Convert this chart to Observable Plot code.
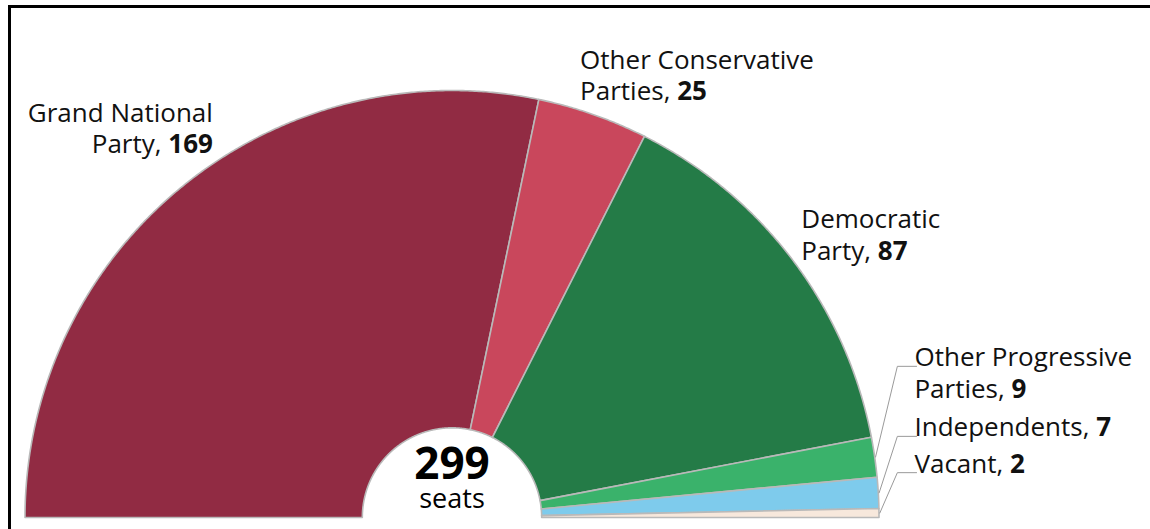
<!DOCTYPE html>
<html>
<head>
<meta charset="utf-8">
<script src="https://cdn.jsdelivr.net/npm/d3@7"></script>
<script src="https://cdn.jsdelivr.net/npm/@observablehq/plot@0.6"></script>
<style>
  html, body { margin: 0; padding: 0; background: #fff; }
  #wrap { position: relative; width: 1150px; height: 529px; overflow: hidden; }
  #frame { position: absolute; left: 8px; top: 5px; width: 1200px; height: 600px;
           border-top: 3px solid #000; border-left: 3px solid #000; pointer-events: none; }
  #chart { position: absolute; left: 0; top: 0; }
</style>
</head>
<body>
<div id="wrap"><div id="chart"></div><div id="frame"></div></div>
<script>
// ---- data ----
const parties = ["Grand National Party", "Other Conservative Parties", "Democratic Party",
                 "Other Progressive Parties", "Independents", "Vacant"];
const seats = [169, 25, 87, 9, 7, 2];
const colors = ["#912b43", "#c9475c", "#247b47", "#3ab26b", "#7ecbec", "#f7e8dc"];
const labelLines = [
  ["Grand National", "Party, 169"],
  ["Other Conservative", "Parties, 25"],
  ["Democratic", "Party, 87"],
  ["Other Progressive", "Parties, 9"],
  ["Independents, 7"],
  ["Vacant, 2"]
];
const centerTotal = "299";
const centerUnit = "seats";

// ---- layout (label anchors in chart units: radius 1 = outer edge; y = first-line baseline) ----
const innerR = 0.21;
const fontSize = 26;
const lineHeight = 1.2;
const lineUnit = fontSize * lineHeight / 427;
const labelLayout = [
  {x: -0.56, y: 0.927, anchor: "end"},
  {x: 0.30, y: 1.051, anchor: "start"},
  {x: 0.818, y: 0.677, anchor: "start"},
  {x: 1.083, y: 0.354, anchor: "start", leader: true},
  {x: 1.083, y: 0.190, anchor: "start", leader: true},
  {x: 1.083, y: 0.105, anchor: "start", leader: true}
];
const kneeX = 1.043;

// ---- geometry derived from data ----
const total = d3.sum(seats);
const cum = d3.cumsum(seats);
const theta = c => Math.PI * (1 - c / total);
const polys = [];
seats.forEach((s, i) => {
  const c0 = i === 0 ? 0 : cum[i - 1], c1 = cum[i];
  const n = Math.max(4, Math.ceil(s * 2));
  for (let k = 0; k <= n; k++) {
    const t = theta(c0 + (c1 - c0) * k / n);
    polys.push({party: parties[i], x: Math.cos(t), y: Math.sin(t)});
  }
  for (let k = n; k >= 0; k--) {
    const t = theta(c0 + (c1 - c0) * k / n);
    polys.push({party: parties[i], x: innerR * Math.cos(t), y: innerR * Math.sin(t)});
  }
});

const labels = parties.map((p, i) => ({
  party: p,
  text: labelLines[i].join("\n"),
  x: labelLayout[i].x,
  y: labelLayout[i].y - (labelLines[i].length - 1) * lineUnit,
  anchor: labelLayout[i].anchor
}));
const leaders = [];
parties.forEach((p, i) => {
  if (!labelLayout[i].leader) return;
  const tm = theta(cum[i] - seats[i] / 2);
  const L = labelLayout[i];
  leaders.push({party: p, x: L.x + 0.005, y: L.y});
  leaders.push({party: p, x: kneeX, y: L.y});
  leaders.push({party: p, x: Math.cos(tm) * 1.002, y: Math.sin(tm) * 1.002});
});

const plot = Plot.plot({
  width: 1150,
  height: 529,
  marginLeft: 24.5,
  marginRight: 271.5,
  marginTop: 90,
  marginBottom: 12,
  x: {domain: [-1, 1], axis: null},
  y: {domain: [0, 1], axis: null},
  color: {domain: parties, range: colors},
  style: {fontFamily: "'Open Sans', sans-serif", background: "transparent", overflow: "visible"},
  marks: [
    Plot.line(polys, {x: "x", y: "y", z: "party", fill: "party", stroke: "#b9b9b9",
                      strokeWidth: 1.6, curve: "linear-closed"}),
    Plot.line(leaders, {x: "x", y: "y", z: "party", stroke: "#9a9a9a", strokeWidth: 1}),
    Plot.text(labels.filter(d => d.anchor === "end"), {x: "x", y: "y", text: "text",
      textAnchor: "end", lineAnchor: "bottom", lineHeight, fontSize, fill: "#111", className: "lbl"}),
    Plot.text(labels.filter(d => d.anchor === "start"), {x: "x", y: "y", text: "text",
      textAnchor: "start", lineAnchor: "bottom", lineHeight, fontSize, fill: "#111", className: "lbl"}),
    Plot.text([centerTotal], {x: 0, y: 0.09, text: d => d, fontSize: 44, fontWeight: 700,
      lineAnchor: "bottom", fill: "#000", letterSpacing: -2}),
    Plot.text([centerUnit], {x: 0, y: 0.022, text: d => d, fontSize: 27,
      lineAnchor: "bottom", fill: "#000"})
  ]
});

// bold the seat numbers within labels
d3.select(plot).selectAll(".lbl text, .lbl tspan").each(function() {
  if (this.querySelector("tspan")) return;
  const t = this.textContent;
  const m = t.match(/^(.*, )(\d+)$/);
  if (m) {
    const el = d3.select(this);
    el.text(m[1]);
    el.append("tspan").attr("font-weight", 700).text(m[2]);
  }
});
document.getElementById("chart").appendChild(plot);
</script>
</body>
</html>
